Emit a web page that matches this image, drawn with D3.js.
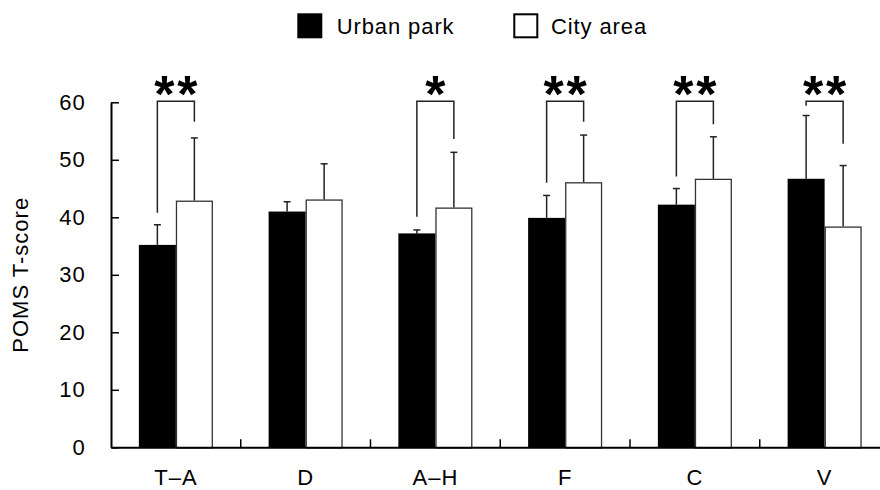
<!DOCTYPE html>
<html>
<head>
<meta charset="utf-8">
<script src="https://cdn.jsdelivr.net/npm/d3@7"></script>
<style>
  body { margin: 0; background: #fff; }
  svg { display: block; font-family: "Liberation Sans", Arial, sans-serif; }
</style>
</head>
<body>
<svg id="chart" width="880" height="490"></svg>
<script>
// ---- data ----
const categories = ["T\u2013A", "D", "A\u2013H", "F", "C", "V"];
const series = ["Urban park", "City area"];
const parkMean = [35.2, 41.0, 37.2, 39.9, 42.2, 46.7];
const parkSD   = [3.5, 1.7, 0.6, 3.9, 2.8, 11.0];
const cityMean = [42.9, 43.1, 41.7, 46.1, 46.7, 38.4];
const citySD   = [10.9, 6.2, 9.6, 8.2, 7.3, 10.6];
const sigMarks = ["**", "", "*", "**", "**", "**"];
const bracketTop = 60.2;
const bracketLeftEnd  = [40.8, null, 40.1, 46.0, 47.1, 59.4];
const bracketRightEnd = [56.6, null, 53.6, 56.6, 56.2, 52.8];
const yTicks = [0, 10, 20, 30, 40, 50, 60];

(function () {
// ---- layout ----
const svg = d3.select("#chart");
const plotLeft = 111, bandStep = 129.75;
const plotRight = plotLeft + bandStep * categories.length;
const plotTop = 102.3, plotBottom = 447.3;

const x0 = d3.scaleBand().domain(categories).range([plotLeft, plotRight]).paddingInner(0).paddingOuter(0);
const x1 = d3.scaleBand().domain(series).range([0, x0.bandwidth()]).paddingInner(0).paddingOuter(0.753);
const y = d3.scaleLinear().domain([0, 60]).range([plotBottom, plotTop]);

const rows = categories.map((c, i) => ({
  cat: c,
  vals: [
    { s: series[0], m: parkMean[i], sd: parkSD[i] },
    { s: series[1], m: cityMean[i], sd: citySD[i] }
  ],
  sig: sigMarks[i], l: bracketLeftEnd[i], r: bracketRightEnd[i]
}));

const lineColor = "#222";

const g = svg.append("g");
const grp = g.selectAll("g.grp").data(rows).join("g")
  .attr("transform", d => `translate(${x0(d.cat)},0)`);

// error bars (upward only)
grp.selectAll("line.err").data(d => d.vals).join("line")
  .attr("x1", d => x1(d.s) + x1.bandwidth() / 2)
  .attr("x2", d => x1(d.s) + x1.bandwidth() / 2)
  .attr("y1", d => y(d.m))
  .attr("y2", d => y(d.m + d.sd))
  .attr("stroke", lineColor).attr("stroke-width", 1.5);
grp.selectAll("line.cap").data(d => d.vals).join("line")
  .attr("x1", d => x1(d.s) + x1.bandwidth() / 2 - 3.5)
  .attr("x2", d => x1(d.s) + x1.bandwidth() / 2 + 3.5)
  .attr("y1", d => y(d.m + d.sd))
  .attr("y2", d => y(d.m + d.sd))
  .attr("stroke", lineColor).attr("stroke-width", 1.5);

grp.selectAll("rect").data(d => d.vals).join("rect")
  .attr("x", d => x1(d.s) + (d.s === series[1] ? 0.6 : 0))
  .attr("width", d => x1.bandwidth() - (d.s === series[1] ? 1.2 : 0))
  .attr("y", d => y(d.m) + (d.s === series[1] ? 0.6 : 0))
  .attr("height", d => y(0) - y(d.m))
  .attr("fill", d => d.s === series[0] ? "#000" : "#fff")
  .attr("stroke", d => d.s === series[0] ? "none" : "#333")
  .attr("stroke-width", 1.3);

// significance brackets
const sigRows = rows.filter(d => d.sig);
const bg = g.selectAll("g.br").data(sigRows).join("g")
  .attr("transform", d => `translate(${x0(d.cat)},0)`);
bg.append("path")
  .attr("d", d => {
    const xl = x1(series[0]) + x1.bandwidth() / 2;
    const xr = x1(series[1]) + x1.bandwidth() / 2;
    return `M${xl},${y(d.l)}V${y(bracketTop)}H${xr}V${y(d.r)}`;
  })
  .attr("fill", "none").attr("stroke", lineColor).attr("stroke-width", 1.5);
bg.append("text")
  .attr("x", x0.bandwidth() / 2 + 1.5)
  .attr("y", 112)
  .attr("text-anchor", "middle")
  .attr("font-size", 52).attr("font-weight", "bold")
  .attr("letter-spacing", 3)
  .text(d => d.sig);

// y axis
const yAxis = d3.axisLeft(y).tickValues(yTicks).tickSizeInner(-8).tickSizeOuter(0).tickPadding(25);
const ya = svg.append("g").attr("transform", `translate(${plotLeft},0)`).call(yAxis);
ya.attr("font-size", 22).attr("font-family", null);
ya.select(".domain").attr("stroke", "#000").attr("stroke-width", 2);
ya.selectAll(".tick line").attr("stroke", "#000").attr("stroke-width", 1.5);
ya.selectAll(".tick text").attr("font-size", 22).attr("letter-spacing", 1.2).attr("fill", "#000");

// x axis
const xAxis = d3.axisBottom(x0).tickSize(0).tickPadding(22);
const xa = svg.append("g").attr("transform", `translate(0,${plotBottom})`).call(xAxis);
xa.attr("font-size", 22).attr("font-family", null);
xa.select(".domain").attr("stroke", "#000").attr("stroke-width", 2);
xa.selectAll(".tick text").attr("font-size", 22).attr("letter-spacing", 1).attr("fill", "#000");
xa.selectAll("line.sep").data(categories.slice(1)).join("line")
  .attr("x1", d => x0(d)).attr("x2", d => x0(d))
  .attr("y1", 0).attr("y2", -8)
  .attr("stroke", "#000").attr("stroke-width", 1.5);

// y title
svg.append("text")
  .attr("transform", `translate(28,${(plotTop + plotBottom) / 2}) rotate(-90)`)
  .attr("text-anchor", "middle")
  .attr("font-size", 22).attr("letter-spacing", 1)
  .text("POMS T-score");

// legend
const legendX = [297.3, 513.3];
const lg = svg.selectAll("g.leg").data(series).join("g")
  .attr("transform", (d, i) => `translate(${legendX[i]},13.3)`);
lg.append("rect")
  .attr("x", (d, i) => i ? 1 : 0).attr("y", (d, i) => i ? 1 : 0)
  .attr("width", (d, i) => i ? 23 : 25).attr("height", (d, i) => i ? 23 : 25)
  .attr("fill", (d, i) => i ? "#fff" : "#000")
  .attr("stroke", (d, i) => i ? "#000" : "none")
  .attr("stroke-width", 2);
lg.append("text")
  .attr("x", (d, i) => i ? 37.7 : 39.4)
  .attr("y", 21)
  .attr("font-size", 22).attr("letter-spacing", 0.9)
  .text(d => d);
})();
</script>
</body>
</html>
